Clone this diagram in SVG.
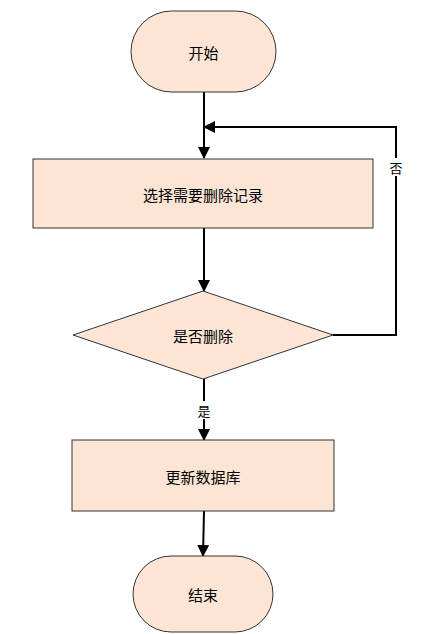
<svg xmlns="http://www.w3.org/2000/svg" width="436" height="634" viewBox="0 0 436 634">
<style>
.node{fill:#fce5d5;stroke:#333;stroke-width:1}
.t{font-family:"Noto Sans CJK SC","Liberation Sans",sans-serif;font-size:15px;fill:#000;text-anchor:middle;dominant-baseline:central}
.lbl{font-family:"Noto Sans CJK SC","Liberation Sans",sans-serif;font-size:13px;fill:#000;text-anchor:middle;dominant-baseline:central}
.e{fill:none;stroke:#000;stroke-width:2}
</style>
<defs>
<marker id="ah" markerWidth="12" markerHeight="12" refX="11" refY="6" orient="auto" markerUnits="userSpaceOnUse">
<path d="M0,0 L12,6 L0,12 Z" fill="#000"/>
</marker>
</defs>
<rect width="436" height="634" fill="#fff"/>
<g id="edges">
<path class="e" d="M204,92 V158" marker-end="url(#ah)"/>
<path class="e" d="M333,335 H396 V127 H204" marker-end="url(#ah)"/>
<path class="e" d="M204,228 V291" marker-end="url(#ah)"/>
<path class="e" d="M204,379 V440" marker-end="url(#ah)"/>
<path class="e" d="M204,511 L203,556" marker-end="url(#ah)"/>
<rect x="388" y="158" width="16" height="18" fill="#fff"/>
<text class="lbl" x="396" y="167">否</text>
<rect x="196" y="401" width="16" height="18" fill="#fff"/>
<text class="lbl" x="204" y="410">是</text>
</g>
<g id="start">
<rect class="node" x="131" y="11" width="145" height="81" rx="40.5"/>
<text class="t" x="203.5" y="52">开始</text>
</g>
<g id="select">
<rect class="node" x="33" y="159" width="340" height="69"/>
<text class="t" x="203" y="194">选择需要删除记录</text>
</g>
<g id="decide">
<polygon class="node" points="203,291 333,335 203,379 73,335"/>
<text class="t" x="203" y="335">是否删除</text>
</g>
<g id="update">
<rect class="node" x="72" y="440" width="262" height="71"/>
<text class="t" x="203" y="476">更新数据库</text>
</g>
<g id="end">
<rect class="node" x="133" y="556" width="140" height="76" rx="38"/>
<text class="t" x="203" y="594">结束</text>
</g>
</svg>
